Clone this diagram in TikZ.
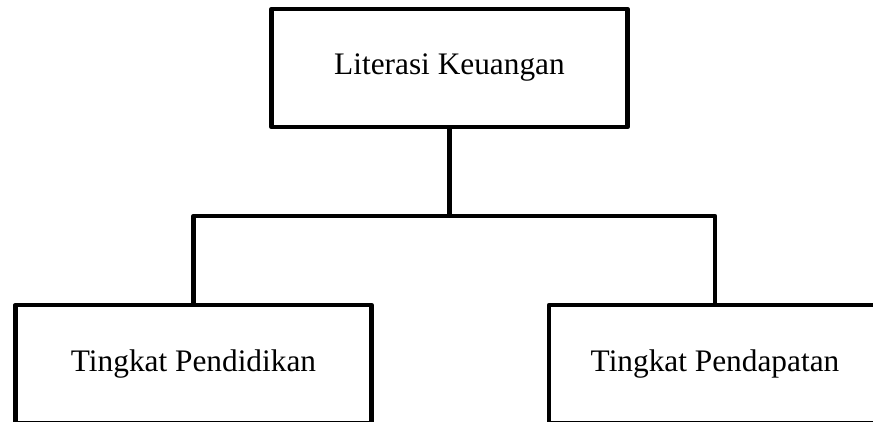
\documentclass[tikz,border=0pt]{standalone}
\usepackage{fontspec}
\setmainfont{Liberation Serif}
\begin{document}
\begin{tikzpicture}[x=0.75pt,y=-0.75pt,
    kotak/.style={draw,line width=3.6pt,line join=round,minimum width=267pt,minimum height=88.5pt,font=\fontsize{23.5}{28}\selectfont},
    garis/.style={line width=3.6pt,line join=round}]
    \useasboundingbox (0,0) rectangle (873,421);
    \clip (0,0) rectangle (873,421);
    \node[kotak] (lk) at (449.5,68) {Literasi Keuangan};
    \node[kotak] (tpd) at (193.5,364) {Tingkat Pendidikan};
    \node[kotak,minimum width=249pt] (tpt) at (715,364) {Tingkat Pendapatan};
    \coordinate (cabang) at (449.5,216);
    \draw[garis] (lk) -- (cabang);
    \draw[garis] (cabang) -| (tpd);
    \draw[garis] (cabang) -| (tpt);
\end{tikzpicture}
\end{document}
